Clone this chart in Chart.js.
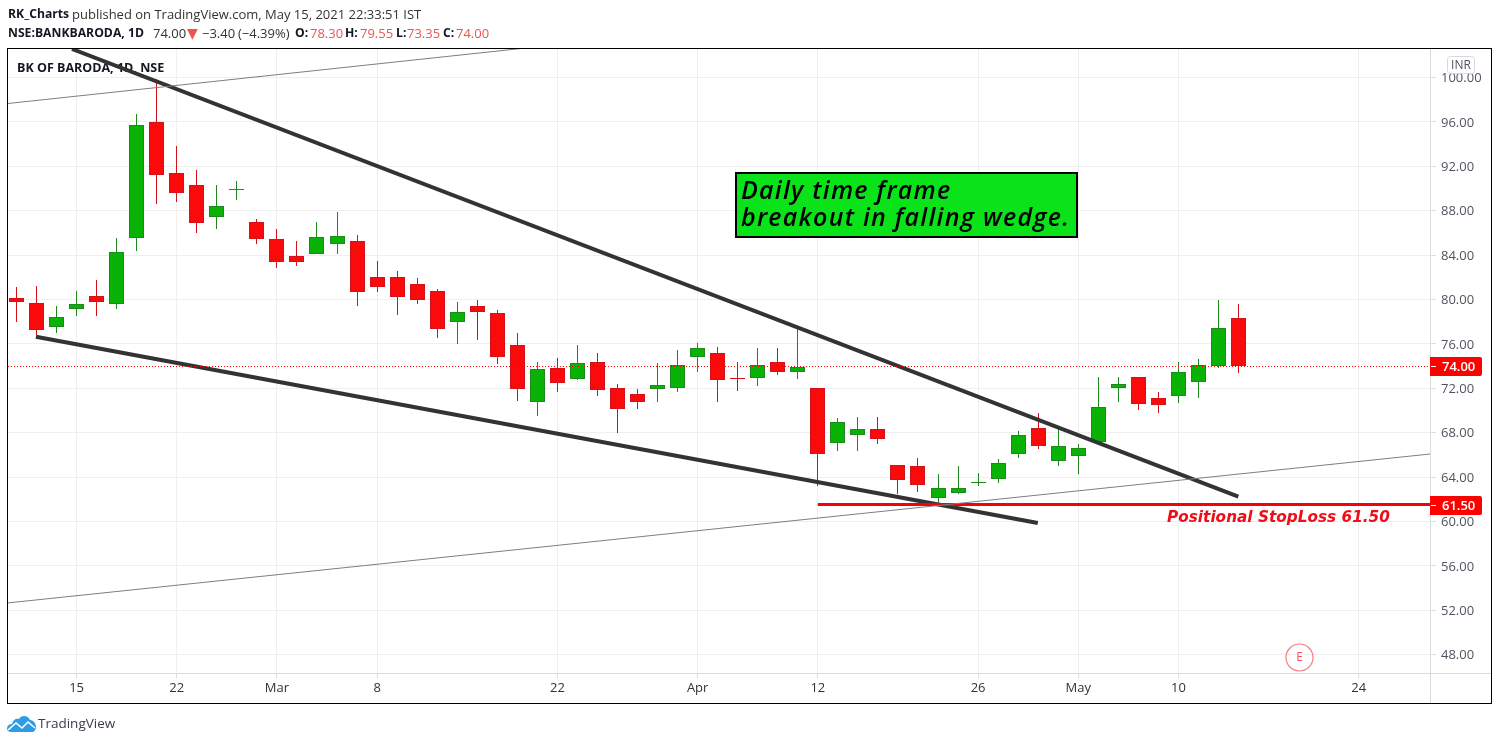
<!DOCTYPE html>
<html>
<head>
<meta charset="utf-8">
<title>BK OF BARODA, 1D, NSE</title>
<script src="https://cdn.jsdelivr.net/npm/chart.js@4"></script>
<style>
    html, body { margin: 0; padding: 0; background: #fff; overflow: hidden; }
    #wrap { position: relative; width: 1499px; height: 744px; font-family: "Open Sans", sans-serif; color: #333; }
    canvas { position: absolute; left: 0; top: 0; }
    .hd { position: absolute; white-space: pre; font-size: 13px; line-height: 16px; }
    .hd.b { color: #131722; font-weight: 700; font-size: 12.2px; }
    .hd.red { color: #ef5350; }
    .hd.arrow { font-family: "DejaVu Sans"; font-size: 14px; }
    #logo { position: absolute; left: 7px; top: 715px; }
    #brand { position: absolute; left: 38px; top: 714px; font-size: 13.5px; line-height: 18px; color: #3a3e4a; }
</style>
</head>
<body>
<div id="wrap">
    <canvas id="chart" width="1499" height="744"></canvas>
    <span class="hd b" style="left:8px;top:6px">RK_Charts</span>
    <span class="hd" style="left:72px;top:6px">published on TradingView.com, May 15, 2021 22:33:51 IST</span>
    <span class="hd b" style="left:8px;top:25px">NSE:BANKBARODA, 1D</span>
    <span class="hd" style="left:153px;top:25px">74.00</span>
    <span class="hd red arrow" style="left:187px;top:25px">▼</span>
    <span class="hd" style="left:202px;top:25px">−3.40</span>
    <span class="hd" style="left:238px;top:25px">(−4.39%)</span>
    <span class="hd b" style="left:295px;top:25px">O:</span>
    <span class="hd red" style="left:310px;top:25px">78.30</span>
    <span class="hd b" style="left:345px;top:25px">H:</span>
    <span class="hd red" style="left:360px;top:25px">79.55</span>
    <span class="hd b" style="left:396px;top:25px">L:</span>
    <span class="hd red" style="left:407px;top:25px">73.35</span>
    <span class="hd b" style="left:443px;top:25px">C:</span>
    <span class="hd red" style="left:456px;top:25px">74.00</span>
    <svg id="logo" width="30" height="18" viewBox="0 0 30 18">
        <path d="M0 14 C0 10 3 9 5 9 C6 5 9 3 12 4 C14 0 21 0 23 5 C26 5 29 8 29 12 C29 15 27 17 25 17 L4 17 C2 17 0 16 0 14 Z" fill="#2e9be6"/>
        <path d="M1 15 L9 8 L15 13 L21 7 L28 13" fill="none" stroke="#fff" stroke-width="1.6"/>
    </svg>
    <div id="brand">TradingView</div>
</div>
<script>
// trading days, Feb 10 to May 14 2021
const dates = ['Feb 10', 'Feb 11', 'Feb 12', 'Feb 15', 'Feb 16', 'Feb 17', 'Feb 18', 'Feb 19',
    'Feb 22', 'Feb 23', 'Feb 24', 'Feb 25', 'Feb 26', 'Mar 1', 'Mar 2', 'Mar 3', 'Mar 4', 'Mar 5',
    'Mar 8', 'Mar 9', 'Mar 10', 'Mar 12', 'Mar 15', 'Mar 16', 'Mar 17', 'Mar 18', 'Mar 19',
    'Mar 22', 'Mar 23', 'Mar 24', 'Mar 25', 'Mar 26', 'Mar 30', 'Mar 31', 'Apr 1', 'Apr 5', 'Apr 6',
    'Apr 7', 'Apr 8', 'Apr 9', 'Apr 12', 'Apr 13', 'Apr 15', 'Apr 16', 'Apr 19', 'Apr 20', 'Apr 22',
    'Apr 23', 'Apr 26', 'Apr 27', 'Apr 28', 'Apr 29', 'Apr 30', 'May 3', 'May 4', 'May 5', 'May 6',
    'May 7', 'May 10', 'May 11', 'May 12', 'May 14'];

const opens = [80.10, 79.65, 77.50, 79.10, 80.35, 79.60, 85.50, 95.95, 91.35, 90.30, 87.40, 89.90,
    86.95, 85.40, 83.95, 84.05, 84.95, 85.25, 82.00, 82.00, 81.35, 80.75, 77.95, 79.45, 78.75, 75.85,
    70.80, 73.80, 72.85, 74.35, 72.00, 71.45, 71.90, 72.05, 74.80, 75.15, 72.85, 72.90, 74.40, 73.45,
    72.00, 67.10, 67.75, 68.30, 65.05, 64.95, 62.10, 62.60, 63.50, 63.85, 66.05, 68.45, 65.40, 65.90,
    67.15, 72.05, 73.00, 71.10, 71.30, 72.55, 74.00, 78.30];
const highs = [81.10, 81.20, 79.45, 80.75, 81.75, 85.55, 96.70, 99.85, 93.80, 91.65, 90.30, 90.65,
    87.25, 86.30, 85.25, 86.95, 87.85, 85.80, 83.50, 82.60, 81.90, 80.90, 79.75, 79.95, 79.05, 76.95,
    74.35, 74.70, 75.85, 75.15, 72.35, 71.90, 74.25, 75.40, 76.05, 75.70, 74.35, 75.60, 75.60, 77.40,
    72.00, 69.30, 69.40, 69.45, 65.05, 65.75, 64.25, 64.95, 64.40, 65.60, 68.15, 69.75, 68.40, 66.95,
    73.00, 73.00, 73.00, 71.70, 74.40, 74.60, 79.95, 79.55];
const lows = [78.00, 76.75, 77.00, 78.55, 78.55, 79.15, 84.40, 88.60, 88.80, 86.00, 86.35, 89.00,
    84.95, 82.85, 83.05, 84.05, 84.10, 79.45, 80.70, 78.60, 79.60, 76.55, 76.00, 76.35, 74.20, 70.85,
    69.50, 71.70, 72.75, 71.30, 68.00, 70.15, 70.80, 71.70, 73.50, 70.80, 71.75, 72.20, 73.20, 72.85,
    63.20, 66.30, 66.30, 67.00, 62.45, 62.65, 61.70, 62.50, 63.20, 63.50, 65.75, 66.55, 65.00, 64.30,
    67.15, 70.80, 70.05, 69.80, 70.70, 71.15, 73.85, 73.35];
const closes = [79.75, 77.20, 78.40, 79.55, 79.75, 84.25, 95.70, 91.20, 89.55, 86.85, 88.40, 89.95,
    85.40, 83.35, 83.35, 85.60, 85.75, 80.65, 81.15, 80.25, 79.95, 77.35, 78.85, 78.85, 74.85, 71.95,
    73.70, 72.45, 74.25, 71.80, 70.10, 70.75, 72.25, 74.05, 75.60, 72.70, 72.80, 74.05, 73.50, 73.95,
    66.10, 68.95, 68.30, 67.40, 63.75, 63.25, 63.05, 63.00, 63.55, 65.30, 67.75, 66.80, 66.75, 66.65,
    70.35, 72.35, 70.60, 70.50, 73.45, 74.05, 77.40, 74.00];

const xTickIndexes = [3, 8, 13, 18, 27, 34, 40, 48, 53, 58, 67];
const xTickLabels = ['15', '22', 'Mar', '8', '22', 'Apr', '12', '26', 'May', '10', '24'];
const yTickValues = [48, 52, 56, 60, 64, 68, 72, 76, 80, 84, 88, 92, 96, 100];

// drawn lines, as bar index and price
const upperWedgeX = [2.77, 60.99];
const upperWedgeY = [102.56, 62.23];
const lowerWedgeX = [0.97, 50.98];
const lowerWedgeY = [76.64, 59.86];
const topChannelX = [-0.42, 25.18];
const topChannelY = [97.65, 102.6];
const lowChannelX = [-0.42, 70.56];
const lowChannelY = [52.66, 66.07];

const lastPrice = 74;
const stopLoss = 61.5;
const stopLossStart = 40;

// axis bounds, picked so the plot sits where it does in the original
const xMin = -0.4243, xMax = 70.558;
const yMin = 46.343, yMax = 102.559;

const UP_FILL = '#09b306', UP_EDGE = '#1b8a1b';
const DOWN_FILL = '#fb0a0c', DOWN_EDGE = '#d2111a';
const isUp = i => closes[i] >= opens[i];

function toPoints(xs, ys) {
    return xs.map((x, i) => ({ x: x, y: ys[i] }));
}

function lineDataset(data, color, width, dash) {
    return {
        type: 'line',
        data: data,
        borderColor: color,
        borderWidth: width,
        borderDash: dash || [],
        pointRadius: 0,
        order: 1
    };
}

// keep candles and the two level lines on whole pixels so they stay sharp
const snapPlugin = {
    id: 'snap',
    afterDatasetsUpdate(chart) {
        [0, 1].forEach(d => {
            chart.getDatasetMeta(d).data.forEach(bar => {
                bar.x = Math.floor(bar.x) + 0.5;
                let top = Math.round(bar.y), base = Math.round(bar.base);
                if (top === base) top -= 1;
                bar.y = top;
                bar.base = base;
            });
        });
        [2, 5].forEach(d => {
            chart.getDatasetMeta(d).data.forEach(pt => {
                pt.y = Math.floor(pt.y + 0.01) + 0.5;
            });
        });
    }
};

const framePlugin = {
    id: 'frame',
    beforeDatasetsDraw(chart) {
        const ctx = chart.ctx;
        ctx.save();
        ctx.font = '700 12.5px "Open Sans"';
        ctx.fillStyle = '#131722';
        ctx.textBaseline = 'alphabetic';
        ctx.fillText('BK OF BARODA, 1D, NSE', 17, 72);
        ctx.restore();
    },
    afterDraw(chart) {
        const ctx = chart.ctx;
        const y = chart.scales.y;
        ctx.save();

        // axis rules and outer frame
        ctx.fillStyle = '#dcdcdc';
        ctx.fillRect(1430, 49, 1, 654);
        ctx.fillRect(8, 673, 1483, 1);
        ctx.strokeStyle = '#000';
        ctx.lineWidth = 1;
        ctx.strokeRect(7.5, 48.5, 1484, 655);

        // price badges
        badge(ctx, y.getPixelForValue(lastPrice), lastPrice);
        badge(ctx, y.getPixelForValue(stopLoss), stopLoss);

        // currency box
        ctx.fillStyle = 'rgba(255,255,255,0.9)';
        ctx.strokeStyle = '#d6d8e0';
        ctx.beginPath();
        ctx.roundRect(1447.5, 56.5, 27, 17, 3);
        ctx.fill();
        ctx.stroke();
        ctx.fillStyle = '#50535e';
        ctx.font = '12px "Open Sans"';
        ctx.textAlign = 'center';
        ctx.textBaseline = 'middle';
        ctx.fillText('INR', 1461, 65.5);

        // note box
        ctx.fillStyle = '#0ae31a';
        ctx.fillRect(736, 173, 341, 64);
        ctx.strokeStyle = '#000';
        ctx.lineWidth = 2;
        ctx.strokeRect(736, 173, 341, 64);
        ctx.fillStyle = '#000';
        ctx.font = 'italic 600 25px "Open Sans"';
        ctx.letterSpacing = '1.25px';
        ctx.textAlign = 'left';
        ctx.textBaseline = 'alphabetic';
        ctx.fillText('Daily time frame', 741, 199);
        ctx.fillText('breakout in falling wedge.', 741, 226);
        ctx.letterSpacing = '0px';

        // stop loss caption
        ctx.fillStyle = '#f00d1a';
        ctx.font = 'italic 700 15.3px "DejaVu Sans"';
        ctx.fillText('Positional StopLoss 61.50', 1167, 522);

        // earnings marker
        ctx.strokeStyle = '#f77c80';
        ctx.lineWidth = 1.2;
        ctx.beginPath();
        ctx.arc(1299.5, 657.5, 13.5, 0, Math.PI * 2);
        ctx.stroke();
        ctx.fillStyle = '#f7525f';
        ctx.font = '12px "Open Sans"';
        ctx.textAlign = 'center';
        ctx.textBaseline = 'middle';
        ctx.fillText('E', 1299.5, 657.5);

        ctx.restore();
    }
};

function badge(ctx, py, value) {
    const mid = Math.round(py);
    ctx.fillStyle = '#ff0000';
    ctx.beginPath();
    ctx.roundRect(1430, mid - 9, 52, 19, [0, 2, 2, 0]);
    ctx.fill();
    ctx.fillStyle = '#fff';
    ctx.fillRect(1431, mid, 5, 1);
    ctx.font = '600 13px "Open Sans"';
    ctx.textAlign = 'left';
    ctx.textBaseline = 'middle';
    ctx.fillText(value.toFixed(2), 1442, mid + 1);
}

new Chart(document.getElementById('chart'), {
    type: 'bar',
    data: {
        datasets: [
            {
                // bodies
                data: dates.map((d, i) => ({ x: i, y: [opens[i], closes[i]] })),
                backgroundColor: dates.map((d, i) => isUp(i) ? UP_FILL : DOWN_FILL),
                borderColor: dates.map((d, i) => isUp(i) ? UP_EDGE : DOWN_EDGE),
                borderWidth: 1,
                borderSkipped: false,
                inflateAmount: 0,
                barThickness: 15,
                grouped: false,
                order: 2
            },
            {
                // wicks
                data: dates.map((d, i) => ({ x: i, y: [lows[i], highs[i]] })),
                backgroundColor: dates.map((d, i) => isUp(i) ? UP_EDGE : DOWN_EDGE),
                borderWidth: 0,
                inflateAmount: 0,
                barThickness: 1,
                grouped: false,
                order: 3
            },
            lineDataset(toPoints([xMin, xMax], [lastPrice, lastPrice]), '#f00', 1, [1, 2]),
            lineDataset(toPoints(topChannelX, topChannelY), '#7b7e86', 1),
            lineDataset(toPoints(lowChannelX, lowChannelY), '#7b7e86', 1),
            lineDataset(toPoints([stopLossStart, xMax], [stopLoss, stopLoss]), '#f5000f', 3),
            lineDataset(toPoints(upperWedgeX, upperWedgeY), '#333333', 4),
            lineDataset(toPoints(lowerWedgeX, lowerWedgeY), '#333333', 4)
        ]
    },
    options: {
        responsive: false,
        animation: false,
        events: [],
        layout: { padding: { left: 8, top: 49, right: 8, bottom: 41 } },
        plugins: { legend: { display: false }, tooltip: { enabled: false } },
        scales: {
            x: {
                type: 'linear',
                min: xMin,
                max: xMax,
                offset: false,
                border: { display: false },
                grid: { color: '#efefef', offset: false, tickLength: 5, tickColor: '#dcdcdc' },
                afterBuildTicks(scale) {
                    scale.ticks = xTickIndexes.map(v => ({ value: v }));
                },
                afterFit(scale) { scale.height = 30; },
                ticks: {
                    autoSkip: false,
                    maxRotation: 0,
                    padding: 2,
                    color: '#333',
                    font: { family: '"Open Sans"', size: 13 },
                    callback: value => xTickLabels[xTickIndexes.indexOf(value)]
                }
            },
            y: {
                position: 'right',
                min: yMin,
                max: yMax,
                border: { display: false },
                grid: { color: '#efefef', tickLength: 6, tickColor: '#dcdcdc' },
                afterBuildTicks(scale) {
                    scale.ticks = yTickValues.map(v => ({ value: v }));
                },
                afterFit(scale) { scale.width = 61; },
                ticks: {
                    padding: 5,
                    labelOffset: 1,
                    color: '#50535e',
                    font: { family: '"Open Sans"', size: 13 },
                    callback: value => value.toFixed(2)
                }
            }
        }
    },
    plugins: [snapPlugin, framePlugin]
});
</script>
</body>
</html>
